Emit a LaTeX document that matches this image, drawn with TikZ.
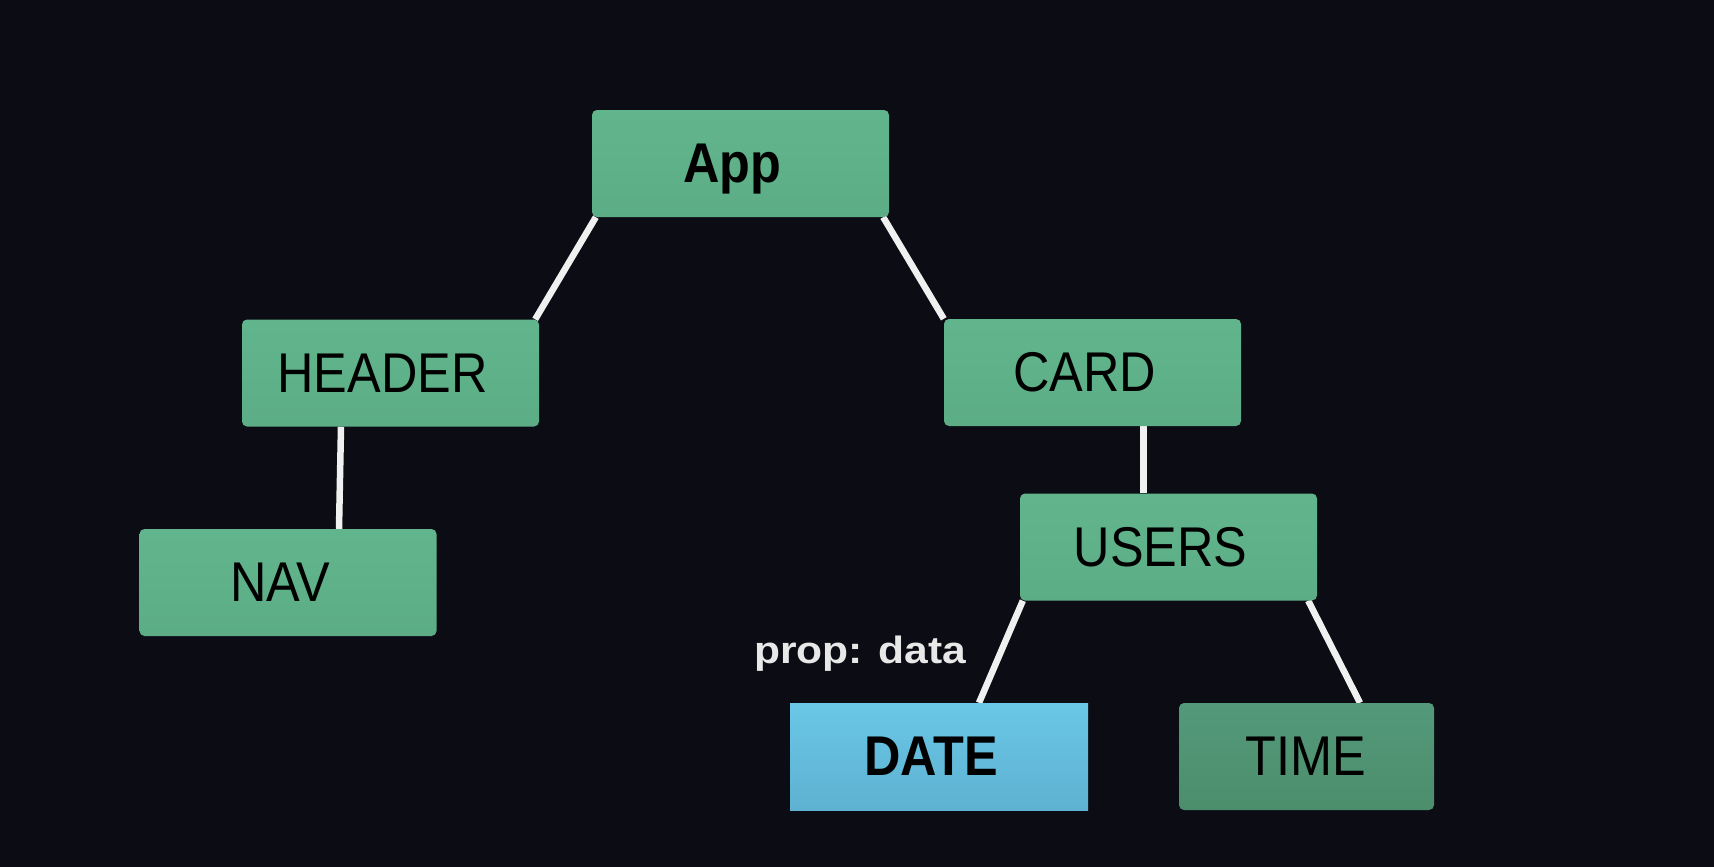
\documentclass[tikz,border=0pt]{standalone}
\usepackage{fontspec}
\setmainfont{Liberation Sans}[FakeStretch=0.9]
\newfontfamily\propfont{Liberation Sans}[FakeStretch=1.12]
\usetikzlibrary{backgrounds}
\definecolor{bgc}{HTML}{0C0C14}
\definecolor{gtop}{HTML}{61B58C}
\definecolor{gbot}{HTML}{5CAD86}
\definecolor{ttop}{HTML}{53997A}
\definecolor{tbot}{HTML}{4C8E6C}
\definecolor{dtop}{HTML}{6AC7E6}
\definecolor{dbot}{HTML}{5EB1D1}
\definecolor{wire}{HTML}{F0F0F0}
\definecolor{proptext}{HTML}{E8E8E8}
\tikzset{
  box/.style={rounded corners=5pt, top color=gtop, bottom color=gbot,
    minimum width=297pt, minimum height=107pt, inner sep=0pt,
    text height=38.5pt, text depth=0pt, text=black,
    font=\fontsize{56pt}{60pt}\selectfont},
  timebox/.style={box, top color=ttop, bottom color=tbot, minimum width=255pt},
  datebox/.style={box, rounded corners=0pt, top color=dtop, bottom color=dbot,
    minimum width=298pt, font=\fontsize{56pt}{60pt}\selectfont\bfseries},
  conn/.style={draw=wire, line width=6.5pt},
}
\begin{document}
\begin{tikzpicture}[x=1pt,y=-1pt]
\useasboundingbox (0,0) rectangle (1714,867);
\node[box, font=\fontsize{56pt}{60pt}\selectfont\bfseries] (app) at (740.5,163.5) {App\kern16pt};
\node[box] (header) at (390.5,373) {HEADER\kern16pt};
\node[box] (card) at (1092.5,372.5) {CARD\kern16pt};
\node[box] (nav) at (288,582.5) {NAV\kern16pt};
\node[box] (users) at (1168.5,547) {USERS\kern16pt};
\node[datebox] (date) at (939,756.5) {DATE\kern16pt};
\node[timebox] (time) at (1306.5,756.5) {TIME\kern2pt};
\node[anchor=base west, inner sep=0pt, text=proptext,
  font=\propfont\bfseries\fontsize{38pt}{40pt}\selectfont] (prop) at (754,663) {prop: data};
\begin{pgfonlayer}{background}
\fill[bgc] (0,0) rectangle (1714,867);
\draw[conn] ([xshift=4pt]app.south west) -- ([xshift=-4pt]header.north east);
\draw[conn] ([xshift=-6pt]app.south east) -- (card.north west);
\draw[conn] ([xshift=-49.5pt]header.south) -- ([xshift=51pt]nav.north);
\draw[conn] ([xshift=51pt]card.south) -- ([xshift=-25pt]users.north);
\draw[conn] ([xshift=3pt]users.south west) -- ([xshift=40pt]date.north);
\draw[conn] ([xshift=-9pt]users.south east) -- ([xshift=53.5pt]time.north);
\end{pgfonlayer}
\end{tikzpicture}
\end{document}
